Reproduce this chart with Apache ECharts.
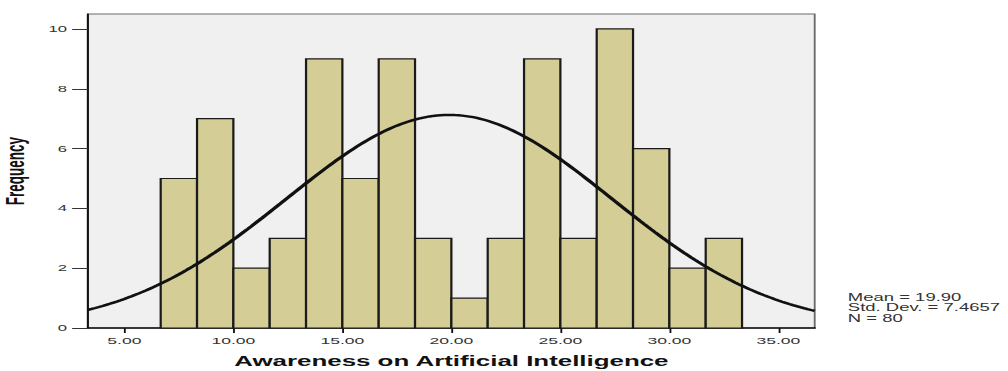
<!DOCTYPE html>
<html>
<head>
<meta charset="utf-8">
<script src="https://cdn.jsdelivr.net/npm/echarts@6/dist/echarts.min.js"></script>
<style>
  html, body { margin: 0; padding: 0; background: #fff; overflow: hidden; }
  /* the chart is laid out narrow and widened horizontally as a whole */
  #chart { width: 545px; height: 371px; transform: scaleX(1.8495); transform-origin: 0 0; }
</style>
</head>
<body>
<div id="chart"></div>
<script>
// Histogram counts per bin (16 bins of equal width)
const binCounts = [5, 7, 2, 3, 9, 5, 9, 3, 1, 3, 9, 3, 10, 6, 2, 3];
const binStart = 20 / 3;
const binWidth = 5 / 3;

// Summary statistics shown beside the chart
const statMean = 19.90;
const statStdDev = 7.4657;
const statN = 80;

// Axis ranges and tick values
const xRange = [10 / 3, 110 / 3];
const xTickValues = [5, 10, 15, 20, 25, 30, 35];
const yTickValues = [0, 2, 4, 6, 8, 10];
const yMax = 10.5;

const xTitle = 'Awareness on Artificial Intelligence';
const yTitle = 'Frequency';

// bar rectangles: [lower edge, upper edge, count]
const bars = binCounts.map((c, i) => [binStart + i * binWidth, binStart + (i + 1) * binWidth, c]);

// fitted normal curve scaled to counts, from the stated mean / std. dev. / N
const curve = [];
const steps = 200;
for (let k = 0; k <= steps; k++) {
  const x = xRange[0] + (xRange[1] - xRange[0]) * k / steps;
  const z = (x - statMean) / statStdDev;
  const y = statN * binWidth / (statStdDev * Math.sqrt(2 * Math.PI)) * Math.exp(-0.5 * z * z);
  curve.push([x, y]);
}

const chart = echarts.init(document.getElementById('chart'), null, { renderer: 'svg' });
const font = '"Liberation Sans", Arial, sans-serif';

chart.setOption({
  animation: false,
  backgroundColor: '#ffffff',
  grid: {
    left: 47.6, right: 104.5, top: 14, bottom: 43,
    outerBoundsMode: 'none', containLabel: false,
    show: true, backgroundColor: '#f0f0f0', borderColor: '#6a6a6a', borderWidth: 1
  },
  xAxis: {
    type: 'value', min: xRange[0], max: xRange[1],
    splitLine: { show: false },
    axisLine: { show: true, onZero: false, lineStyle: { color: '#111', width: 1.6 } },
    axisTick: { show: true, customValues: xTickValues, length: 5, lineStyle: { color: '#111', width: 1 } },
    axisLabel: {
      customValues: xTickValues, margin: 8, color: '#333',
      fontFamily: font, fontSize: 9.5,
      formatter: v => v.toFixed(2)
    },
    name: xTitle, nameLocation: 'middle', nameGap: 26,
    nameTextStyle: { fontFamily: font, fontWeight: 'bold', fontSize: 14, color: '#111' }
  },
  yAxis: {
    type: 'value', min: 0, max: yMax,
    splitLine: { show: false },
    axisLine: { show: true, lineStyle: { color: '#111', width: 1.1 } },
    axisTick: { show: true, customValues: yTickValues, length: 8.6, lineStyle: { color: '#333', width: 1 } },
    axisLabel: {
      customValues: yTickValues, margin: 11.4, color: '#333',
      fontFamily: font, fontSize: 9
    },
    name: yTitle, nameLocation: 'middle', nameRotate: 90, nameGap: 22,
    nameTextStyle: { fontFamily: font, fontWeight: 'bold', fontSize: 13.5, color: '#111' }
  },
  series: [
    {
      type: 'custom',
      data: bars,
      renderItem: function (params, api) {
        const p0 = api.coord([api.value(0), api.value(2)]);
        const p1 = api.coord([api.value(1), 0]);
        return {
          type: 'rect',
          shape: { x: p0[0], y: p0[1], width: p1[0] - p0[0], height: p1[1] - p0[1] },
          style: { fill: '#d4cd95', stroke: '#1a1a1a', lineWidth: 1.2 }
        };
      },
      z: 2
    },
    {
      type: 'line',
      data: curve,
      showSymbol: false,
      smooth: false,
      lineStyle: { color: '#111', width: 2.4 },
      z: 3
    }
  ],
  graphic: [
    {
      type: 'text', left: 458.4, top: 292,
      style: {
        text: 'Mean = ' + statMean.toFixed(2) + '\nStd. Dev. = ' + statStdDev.toFixed(4) + '\nN = ' + statN,
        fontFamily: font, fontSize: 10, lineHeight: 10.5, fill: '#333'
      }
    }
  ]
});
</script>
</body>
</html>
